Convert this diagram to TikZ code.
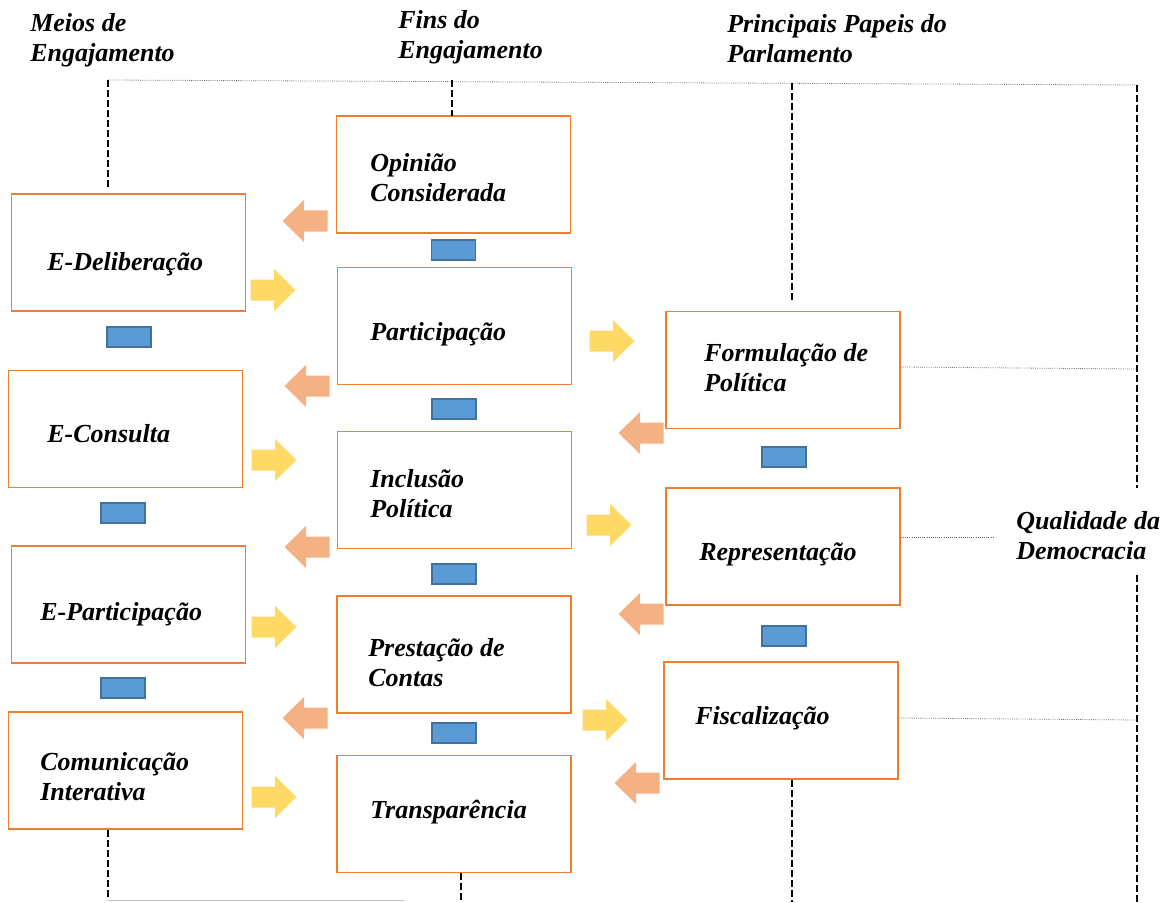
\documentclass[tikz,border=0pt]{standalone}
\usepackage{fontspec}
\setmainfont{Liberation Serif}
\definecolor{boxor}{HTML}{ED7D31}
\definecolor{yel}{HTML}{FFD966}
\definecolor{sal}{HTML}{F4B183}
\definecolor{barfill}{HTML}{5B9BD5}
\definecolor{barline}{HTML}{41719C}
\begin{document}
\begin{tikzpicture}[x=0.75pt,y=-0.75pt,
  box/.style={draw=boxor, line width=1.35pt, minimum width=175.5pt, minimum height=87.75pt, inner sep=0},
  lbl/.style={anchor=west, align=left, inner sep=0, font=\bfseries\itshape\fontsize{19.5}{22.5}\selectfont},
  bar/.style={draw=barline, fill=barfill, line width=0.8pt, minimum width=33pt, minimum height=15pt, inner sep=0},
  dline/.style={line width=1.2pt, dash pattern=on 5pt off 2.5pt},
  thinl/.style={black!60, line width=0.6pt, densely dotted},
  rarr/.pic={\fill[yel] (-22.5,-10.5) -- (1,-10.5) -- (1,-21) -- (22.5,0) -- (1,21) -- (1,10.5) -- (-22.5,10.5) -- cycle;},
  larr/.pic={\fill[sal] (22.5,-10.5) -- (-1,-10.5) -- (-1,-21) -- (-22.5,0) -- (-1,21) -- (-1,10.5) -- (22.5,10.5) -- cycle;}
]
\useasboundingbox (0,0) rectangle (1169,902);

% headers
\node[lbl] (h1) at (30,40) {Meios de\\Engajamento};
\node[lbl] (h2) at (398,37) {Fins do\\Engajamento};
\node[lbl] (h3) at (727,39) {Principais Papeis do\\Parlamento};
\node[lbl] (h4) at (1016,536) {Qualidade da\\Democracia};

% boxes
\node[box] (delib) at (128.5,252.5) {};
\node[box] (cons) at (125.5,429) {};
\node[box] (epart) at (128.5,604.5) {};
\node[box] (comun) at (125.5,770.5) {};
\node[box] (opin) at (453.5,174.5) {};
\node[box] (part) at (454.5,326) {};
\node[box] (incl) at (454.5,490) {};
\node[box] (prest) at (454,654.5) {};
\node[box] (transp) at (454,814) {};
\node[box] (form) at (783,370) {};
\node[box] (repr) at (783,546.5) {};
\node[box] (fisc) at (781,720.5) {};

% labels
\node[lbl] (tdelib) at (47,264) {E-Deliberação};
\node[lbl] (tcons) at (47,434) {E-Consulta};
\node[lbl] (tepart) at (40,614) {E-Participação};
\node[lbl] (tcomun) at (40,777) {Comunicação\\Interativa};
\node[lbl] (topin) at (370,178) {Opinião\\Considerada};
\node[lbl] (tpart) at (370,334) {Participação};
\node[lbl] (tincl) at (370,493.5) {Inclusão\\Política};
\node[lbl] (tprest) at (368,662.5) {Prestação de\\Contas};
\node[lbl] (ttransp) at (370,812) {Transparência};
\node[lbl] (tform) at (704,368) {Formulação de\\Política};
\node[lbl] (trepr) at (699,554) {Representação};
\node[lbl] (tfisc) at (695,718) {Fiscalização};

% blue bars
\node[bar] (b1) at (129,337) {};
\node[bar] (b2) at (123,513) {};
\node[bar] (b3) at (123,688) {};
\node[bar] (b4) at (453.5,250) {};
\node[bar] (b5) at (454,409) {};
\node[bar] (b6) at (454,574) {};
\node[bar] (b7) at (454,733) {};
\node[bar] (b8) at (784,457) {};
\node[bar] (b9) at (784,636) {};

% arrows
\pic (y1) at (273,290) {rarr};
\pic (y2) at (274,460) {rarr};
\pic (y3) at (274,627) {rarr};
\pic (y4) at (274,797) {rarr};
\pic (y5) at (612,341) {rarr};
\pic (y6) at (609,525) {rarr};
\pic (y7) at (605,720) {rarr};
\pic (o1) at (305,221) {larr};
\pic (o2) at (307,386) {larr};
\pic (o3) at (307,547) {larr};
\pic (o4) at (305,718) {larr};
\pic (o5) at (641,433) {larr};
\pic (o6) at (641,614) {larr};
\pic (o7) at (637,783) {larr};

% frame lines
\coordinate (tl) at (108,80);
\coordinate (tm) at (452,80);
\coordinate (tr) at (792,83);
\coordinate (tf) at (1137,85);
\draw[thinl] (tl) -- (tf);
\draw[dline] (tl) -- (108,187);
\draw[dline] (tm) -- (452,116);
\draw[dline] (tr) -- (792,302);
\draw[dline] (tf) -- (1137,488);
\draw[dline] (1137,575) -- (1137,902);
\draw[thinl] (form.east |- 0,367) -- (1137,369);
\draw[thinl] (repr.east |- 0,537) -- (993,537);
\draw[thinl] (fisc.east |- 0,718) -- (1137,720);
\draw[dline] (108,830) -- (108,900);
\draw[dline] (461,873) -- (461,902);
\draw[dline] (792,780) -- (792,902);
\draw[black!25, line width=0.6pt] (108,900) -- (404,900);
\end{tikzpicture}
\end{document}
